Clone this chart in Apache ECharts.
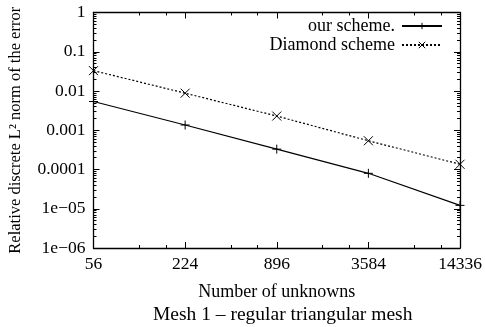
<!DOCTYPE html>
<html>
<head>
<meta charset="utf-8">
<script src="https://cdn.jsdelivr.net/npm/echarts@6/dist/echarts.min.js"></script>
<style>
  html, body { margin: 0; padding: 0; background: #fff; }
  #chart { width: 485px; height: 327px; }
</style>
</head>
<body>
<div id="chart"></div>
<script>
// Number of unknowns per mesh refinement (x axis, log base 4)
const unknowns = [56, 224, 896, 3584, 14336];
// Relative discrete L2 error of each scheme
const ourScheme = [0.0054, 0.00136, 0.00033, 0.00008, 0.0000122];
const diamondScheme = [0.033, 0.0088, 0.0023, 0.00054, 0.000136];
// Tick labels
const xTickLabels = ['56', '224', '896', '3584', '14336'];
const yTickValues = [1e-6, 1e-5, 1e-4, 1e-3, 1e-2, 1e-1, 1];
const yTickLabels = ['1e\u221206', '1e\u221205', '0.0001', '0.001', '0.01', '0.1', '1'];

const FONT = '"Liberation Serif", "DejaVu Serif", serif';

// Minor ticks: 2x and 3x within each factor-of-4 step on x, 2..9 within each decade on y
const xMinor = [];
unknowns.slice(0, -1).forEach(v => { xMinor.push(v * 2, v * 3); });
const yMinor = [];
yTickValues.slice(0, -1).forEach(v => { for (let k = 2; k <= 9; k++) yMinor.push(v * k); });

const plusPath = 'path://M0,5L10,5M5,0L5,10';
const crossPath = 'path://M0,0L10,10M0,10L10,0';

function xAxisDef(position, major, showLabels, showLine) {
  return {
    type: 'log', logBase: 4, min: 56, max: 14336, position: position,
    axisLine: { show: showLine, lineStyle: { color: '#000', width: 1.3 } },
    axisTick: { show: true, inside: true, length: major ? 6 : 3,
      customValues: major ? unknowns : xMinor, lineStyle: { color: '#000', width: 1 } },
    axisLabel: { show: showLabels, customValues: unknowns, margin: 7,
      formatter: v => xTickLabels[unknowns.indexOf(Math.round(v))] || '',
      color: '#000', fontFamily: FONT, fontSize: 17.5 },
    splitLine: { show: false }, minorTick: { show: false }
  };
}
function yAxisDef(position, major, showLabels, showLine) {
  return {
    type: 'log', logBase: 10, min: 1e-6, max: 1, position: position,
    axisLine: { show: showLine, lineStyle: { color: '#000', width: 1.3 } },
    axisTick: { show: true, inside: true, length: major ? 6 : 3,
      customValues: major ? yTickValues : yMinor, lineStyle: { color: '#000', width: 1 } },
    axisLabel: { show: showLabels, customValues: yTickValues, margin: 8,
      formatter: v => {
        const i = yTickValues.findIndex(t => Math.abs(Math.log10(t) - Math.log10(v)) < 1e-6);
        return i >= 0 ? yTickLabels[i] : '';
      },
      color: '#000', fontFamily: FONT, fontSize: 17.5 },
    splitLine: { show: false }, minorTick: { show: false }
  };
}

const xAxes = [
  xAxisDef('bottom', true, true, true),
  xAxisDef('bottom', false, false, false),
  xAxisDef('top', true, false, true),
  xAxisDef('top', false, false, false)
];
xAxes[0].name = 'Number of unknowns';
xAxes[0].nameLocation = 'middle';
xAxes[0].nameGap = 35;
xAxes[0].nameTextStyle = { color: '#000', fontFamily: FONT, fontSize: 18 };

const yAxes = [
  yAxisDef('left', true, true, true),
  yAxisDef('left', false, false, false),
  yAxisDef('right', true, false, true),
  yAxisDef('right', false, false, false)
];
yAxes[0].name = 'Relative discrete L\u00b2 norm of the error';
yAxes[0].nameLocation = 'middle';
yAxes[0].nameGap = 69;
yAxes[0].nameTextStyle = { color: '#000', fontFamily: FONT, fontSize: 16.5 };

const chart = echarts.init(document.getElementById('chart'), null, { renderer: 'canvas' });
chart.setOption({
  animation: false,
  backgroundColor: '#fff',
  grid: { left: 93.5, right: 25, top: 12.5, bottom: 79, containLabel: false, outerBoundsMode: 'none' },
  title: {
    text: 'Mesh 1 \u2013 regular triangular mesh',
    left: 153, bottom: 2,
    textStyle: { color: '#000', fontFamily: FONT, fontSize: 19.5, fontWeight: 'normal' },
    padding: 0
  },
  legend: {
    orient: 'vertical', align: 'right', right: 37, top: 12,
    itemWidth: 40, itemHeight: 8, itemGap: 1,
    itemStyle: { borderWidth: 1 },
    textStyle: { color: '#000', fontFamily: FONT, fontSize: 18, lineHeight: 16, padding: [0, 2, 0, 0] },
    data: ['our scheme.', 'Diamond scheme']
  },
  xAxis: xAxes,
  yAxis: yAxes,
  series: [
    {
      name: 'our scheme.', type: 'line',
      data: unknowns.map((x, i) => [x, ourScheme[i]]),
      symbol: plusPath, symbolSize: 9,
      lineStyle: { color: '#000', width: 1.2, type: 'solid' },
      itemStyle: { color: '#000', borderColor: '#000', borderWidth: 1 }
    },
    {
      name: 'Diamond scheme', type: 'line',
      data: unknowns.map((x, i) => [x, diamondScheme[i]]),
      symbol: crossPath, symbolSize: 9,
      lineStyle: { color: '#000', width: 1.2, type: [2, 2] },
      itemStyle: { color: '#000', borderColor: '#000', borderWidth: 1 }
    }
  ]
});
</script>
</body>
</html>
